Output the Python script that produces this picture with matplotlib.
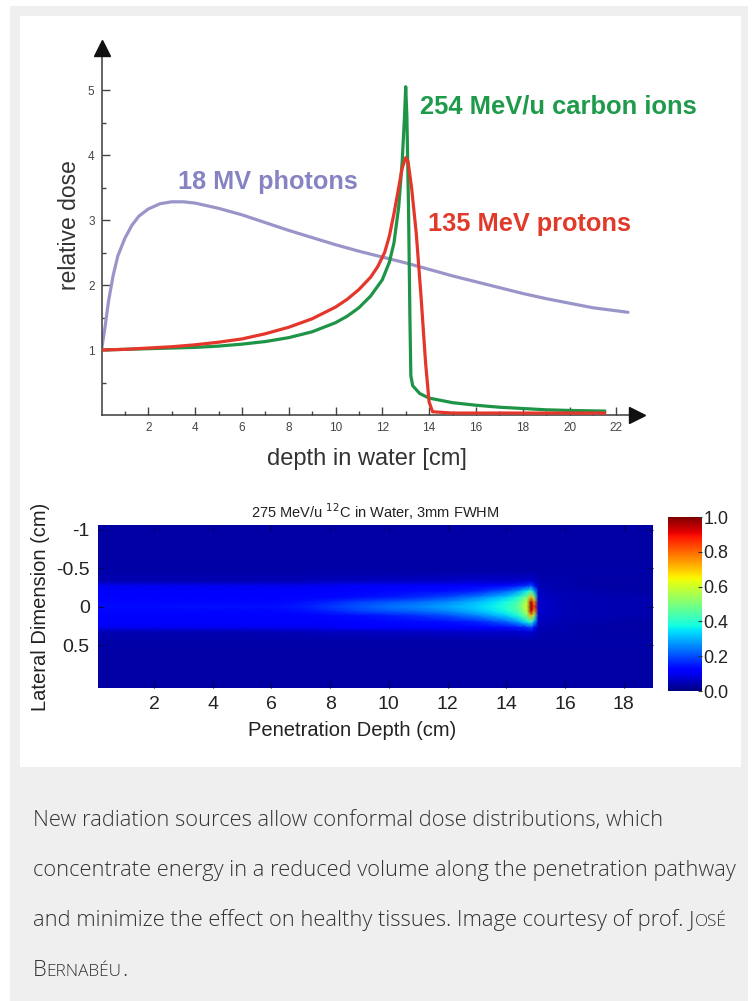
import matplotlib
matplotlib.use("Agg")
import matplotlib.pyplot as plt
import numpy as np
from matplotlib.patches import Rectangle
from matplotlib import font_manager

W, H = 755, 1001

# ---------------- data: depth-dose curves ----------------
photon_x = [0, 0.15, 0.3, 0.5, 0.7, 1.0, 1.3, 1.6, 2.0, 2.5, 3.0, 3.5, 4.0, 5.0, 6.0, 7.0,
            8.0, 9.0, 10.0, 11.0, 12.0, 13.0, 14.0, 15.0, 16.0, 17.0, 18.0, 19.0, 20.0, 21.0, 22.5]
photon_y = [1.0, 1.35, 1.75, 2.15, 2.45, 2.72, 2.92, 3.06, 3.17, 3.25, 3.28, 3.28, 3.26, 3.18, 3.08, 2.96,
            2.84, 2.73, 2.62, 2.52, 2.43, 2.34, 2.24, 2.14, 2.05, 1.96, 1.87, 1.79, 1.72, 1.65, 1.58]

proton_x = [0, 1, 2, 3, 4, 5, 6, 7, 8, 9, 10, 10.5, 11, 11.5, 11.8, 12.1, 12.3, 12.5, 12.7, 12.85,
            13.0, 13.1, 13.25, 13.45, 13.65, 13.85, 14.0, 14.15, 15.0, 21.5]
proton_y = [1.0, 1.01, 1.03, 1.05, 1.08, 1.12, 1.17, 1.25, 1.35, 1.48, 1.66, 1.78, 1.93, 2.12, 2.28, 2.5,
            2.75, 3.1, 3.5, 3.8, 3.96, 3.9, 3.5, 2.8, 1.85, 0.8, 0.2, 0.05, 0.03, 0.03]

carbon_x = [0, 1, 2, 3, 4, 5, 6, 7, 8, 9, 10, 10.5, 11, 11.5, 12.0, 12.3, 12.5, 12.7, 12.85, 12.95,
            13.0, 13.05, 13.12, 13.18, 13.22, 13.3, 13.6, 14.0, 15.0, 16.0, 17.0, 18.0, 19.0, 20.0, 21.5]
carbon_y = [1.0, 1.01, 1.02, 1.03, 1.04, 1.06, 1.09, 1.13, 1.19, 1.28, 1.42, 1.52, 1.65, 1.83, 2.08, 2.35,
            2.65, 3.2, 3.9, 4.6, 5.05, 4.6, 3.2, 1.5, 0.6, 0.45, 0.33, 0.26, 0.19, 0.15, 0.12, 0.10, 0.08, 0.07, 0.06]

top_xticks = [2, 4, 6, 8, 10, 12, 14, 16, 18, 20, 22]
top_yticks = [1, 2, 3, 4, 5]

# ---------------- data: 2D dose map (half profile, mirrored) ----------------
map_depth = [0, 1, 2, 3, 4, 5, 6, 7, 8, 9, 10, 11, 12, 13, 13.5, 14, 14.4, 14.7, 14.85, 14.95,
             15.1, 15.5, 16, 17, 19]
map_lateral = [0, 0.06, 0.12, 0.20, 0.27, 0.33, 0.45, 0.7, 1.1]
dose_r000 = [0.135, 0.135, 0.135, 0.14, 0.14, 0.14, 0.14, 0.15, 0.18, 0.21, 0.24, 0.26, 0.29, 0.33, 0.36,
             0.40, 0.46, 0.60, 1.00, 0.85, 0.07, 0.06, 0.05, 0.045, 0.04]
dose_r006 = [0.13, 0.13, 0.13, 0.13, 0.13, 0.13, 0.13, 0.14, 0.16, 0.19, 0.21, 0.23, 0.26, 0.31, 0.34,
             0.38, 0.44, 0.57, 0.95, 0.75, 0.07, 0.06, 0.05, 0.045, 0.04]
dose_r012 = [0.125, 0.125, 0.125, 0.125, 0.125, 0.125, 0.125, 0.125, 0.13, 0.14, 0.15, 0.17, 0.20, 0.25, 0.29,
             0.33, 0.39, 0.50, 0.72, 0.50, 0.065, 0.055, 0.05, 0.045, 0.04]
dose_r020 = [0.12, 0.12, 0.12, 0.12, 0.12, 0.12, 0.12, 0.12, 0.12, 0.125, 0.13, 0.135, 0.14, 0.16, 0.19,
             0.22, 0.28, 0.36, 0.42, 0.30, 0.06, 0.05, 0.045, 0.04, 0.035]
dose_r027 = [0.10, 0.10, 0.10, 0.10, 0.10, 0.10, 0.10, 0.10, 0.105, 0.11, 0.11, 0.115, 0.12, 0.125, 0.13,
             0.135, 0.15, 0.17, 0.20, 0.14, 0.05, 0.045, 0.04, 0.035, 0.035]
dose_r033 = [0.045, 0.045, 0.045, 0.045, 0.045, 0.045, 0.05, 0.05, 0.055, 0.055, 0.06, 0.06, 0.065, 0.07,
             0.07, 0.07, 0.07, 0.075, 0.08, 0.065, 0.045, 0.04, 0.04, 0.035, 0.035]
dose_r045 = [0.038] * 25
dose_r070 = [0.035] * 25
dose_r110 = [0.035] * 25

map_xticks = [2, 4, 6, 8, 10, 12, 14, 16, 18]
map_yticks = [-1, -0.5, 0, 0.5]
map_yticklabels = ["-1", "-0.5", "0", "0.5"]
cbar_ticks = [0.0, 0.2, 0.4, 0.6, 0.8, 1.0]

caption_lines = [
    "New radiation sources allow conformal dose distributions, which",
    "concentrate energy in a reduced volume along the penetration pathway",
    "and minimize the effect on healthy tissues. Image courtesy of prof.",
]

# ---------------- helpers ----------------
def fx(px):
    return px / W

def fy(py):
    return 1 - py / H

fig = plt.figure(figsize=(W / 100, H / 100), dpi=100)
fig.patch.set_facecolor("white")
fig.patches.append(Rectangle((fx(10), 0), fx(748) - fx(10), fy(6), transform=fig.transFigure,
                             facecolor="#efefef", edgecolor="none", zorder=-10))
fig.patches.append(Rectangle((fx(20), fy(767)), fx(741) - fx(20), fy(16) - fy(767),
                             transform=fig.transFigure, facecolor="white", edgecolor="none", zorder=-9))

SANS = ["Liberation Sans", "DejaVu Sans"]

# ---------------- top chart ----------------
x0px, y0px = 101.5, 415.0
pxx, pxy = 23.4, 65.0
xmax, ymax = 22.9, 5.65
ax = fig.add_axes([fx(x0px), fy(y0px), xmax * pxx / W, ymax * pxy / H])
ax.set_facecolor("none")
ax.set_xlim(0, xmax)
ax.set_ylim(0, ymax)

lw = 2.3
ax.plot(photon_x, photon_y, color="#9a95c9", lw=lw, solid_capstyle="round", zorder=2)
ax.plot(carbon_x, carbon_y, color="#1d9446", lw=lw, solid_joinstyle="round", zorder=3)
ax.plot(proton_x, proton_y, color="#e5362b", lw=lw, solid_joinstyle="round", zorder=4)

for s in ["top", "right"]:
    ax.spines[s].set_visible(False)
for s in ["left", "bottom"]:
    ax.spines[s].set_color("#3a3a3a")
    ax.spines[s].set_linewidth(1.1)
ax.plot([1], [0], marker=">", ms=11, color="#111", transform=ax.transAxes, clip_on=False, zorder=5)
ax.plot([0], [1], marker="^", ms=11, color="#111", transform=ax.transAxes, clip_on=False, zorder=5)

ax.set_xticks(top_xticks)
ax.set_xticklabels([str(t) for t in top_xticks])
ax.set_xticks([1, 3, 5, 7, 9, 11, 13, 15, 17, 19, 21], minor=True)
ax.set_yticks(top_yticks)
ax.set_yticklabels([str(t) for t in top_yticks])
ax.set_yticks([0.5, 1.5, 2.5, 3.5, 4.5], minor=True)
ax.tick_params(which="major", direction="in", length=6, width=1, color="#444",
               labelsize=8.5, labelcolor="#444", pad=5)
ax.tick_params(which="minor", direction="in", length=3, width=1, color="#444")
for lab in ax.get_xticklabels() + ax.get_yticklabels():
    lab.set_family(SANS)

fig.text(fx(70), fy(225), "relative dose", rotation=90, ha="center", va="center",
         fontsize=16.5, color="#333", family=SANS)
fig.text(fx(367), fy(459), "depth in water [cm]", ha="center", va="center",
         fontsize=17, color="#333", family=SANS)

fig.text(fx(420), fy(107), "254 MeV/u carbon ions", ha="left", va="center", fontsize=18.4,
         fontweight="bold", color="#1f9a4a", family=SANS)
fig.text(fx(178), fy(182), "18 MV photons", ha="left", va="center", fontsize=18.2,
         fontweight="bold", color="#8683c2", family=SANS)
fig.text(fx(428), fy(224), "135 MeV protons", ha="left", va="center", fontsize=18.3,
         fontweight="bold", color="#e03a2a", family=SANS)

# ---------------- heat map ----------------
rows_half = [dose_r000, dose_r006, dose_r012, dose_r020, dose_r027, dose_r033, dose_r045, dose_r070, dose_r110]
lat_full = [-r for r in map_lateral[::-1]] + map_lateral[1:]
Z = np.array(rows_half[::-1] + rows_half[1:])
X, Y = np.meshgrid(map_depth, lat_full)

axm = fig.add_axes([fx(98), fy(688), (653 - 98) / W, (688 - 525) / H])
axm.pcolormesh(X, Y, Z, shading="gouraud", cmap="jet", vmin=0, vmax=1, rasterized=True)
axm.set_xlim(0.09, 19.0)
axm.set_ylim(1.06, -1.065)
axm.set_xticks(map_xticks)
axm.set_xticklabels([str(t) for t in map_xticks])
axm.set_yticks(map_yticks)
axm.set_yticklabels(map_yticklabels)
axm.tick_params(direction="in", length=4, width=0.8, color="#000060", top=True, right=True,
                labelsize=14, labelcolor="#222", pad=6)
for lab in axm.get_xticklabels() + axm.get_yticklabels():
    lab.set_family(SANS)
for s in axm.spines.values():
    s.set_visible(False)
axm.set_title(r"275 MeV/u $^{12}$C in Water, 3mm FWHM", fontsize=10.5, color="#222",
              family=SANS, pad=5)
fig.text(fx(352), fy(731), "Penetration Depth (cm)", ha="center", va="center", fontsize=14.5,
         color="#222", family=SANS)
fig.text(fx(41), fy(607), "Lateral Dimension (cm)", rotation=90, ha="center", va="center",
         fontsize=14.5, color="#222", family=SANS)

cax = fig.add_axes([fx(668), fy(691), (702 - 668) / W, (691 - 517) / H])
sm = matplotlib.cm.ScalarMappable(norm=matplotlib.colors.Normalize(0, 1), cmap="jet")
cb = fig.colorbar(sm, cax=cax, ticks=cbar_ticks)
cb.ax.set_yticklabels(["%.1f" % t for t in cbar_ticks])
cb.outline.set_visible(False)
cb.ax.tick_params(direction="in", length=3, color="#333", labelsize=13, labelcolor="#222", pad=1)
for lab in cb.ax.get_yticklabels():
    lab.set_family(SANS)

# ---------------- caption ----------------
def _w(f):
    w = f.weight
    if isinstance(w, str):
        w = font_manager.weight_dict.get(w, 400)
    return w

fonts = font_manager.fontManager.ttflist
cap_weight = "normal"
if any(f.name == "Open Sans Condensed" and _w(f) <= 400 for f in fonts):
    cap_family = ["Open Sans Condensed", "Open Sans", "DejaVu Sans"]
    cap_weight = "light"
elif any(f.name == "Liberation Sans Narrow" and _w(f) <= 400 for f in fonts):
    cap_family = ["Liberation Sans Narrow", "Open Sans", "DejaVu Sans"]
else:
    cap_family = ["Open Sans", "DejaVu Sans"]
    if any(f.name == "Open Sans" and _w(f) <= 300 for f in fonts):
        cap_weight = "light"

fig.canvas.draw()
renderer = fig.canvas.get_renderer()
CAP = dict(family=cap_family, weight=cap_weight, color="#333333", va="baseline", ha="left")

def width_of(s, size):
    t = fig.text(0, 0, s, fontsize=size, **CAP)
    w = t.get_window_extent(renderer).width
    t.remove()
    return w

base = 14.0
target = 740 - 33
cap_size = base * target / width_of(caption_lines[1], base)
small = cap_size * 0.78
space = width_of("x x", cap_size) - width_of("xx", cap_size)

def put(xpx, ypx, s, size):
    t = fig.text(fx(xpx), fy(ypx), s, fontsize=size, **CAP)
    return xpx + t.get_window_extent(renderer).width

baselines = [826, 876, 926, 976]
x_left = 33
put(x_left, baselines[0], caption_lines[0], cap_size)
put(x_left, baselines[1], caption_lines[1], cap_size)
xe = put(x_left, baselines[2], caption_lines[2], cap_size) + space
xe = put(xe, baselines[2], "J", cap_size)
put(xe, baselines[2], "OSÉ", small)
xe = put(x_left, baselines[3], "B", cap_size)
xe = put(xe, baselines[3], "ERNABÉU", small)
put(xe, baselines[3], ".", cap_size)

fig.savefig("out.png", dpi=100, facecolor=fig.get_facecolor())
